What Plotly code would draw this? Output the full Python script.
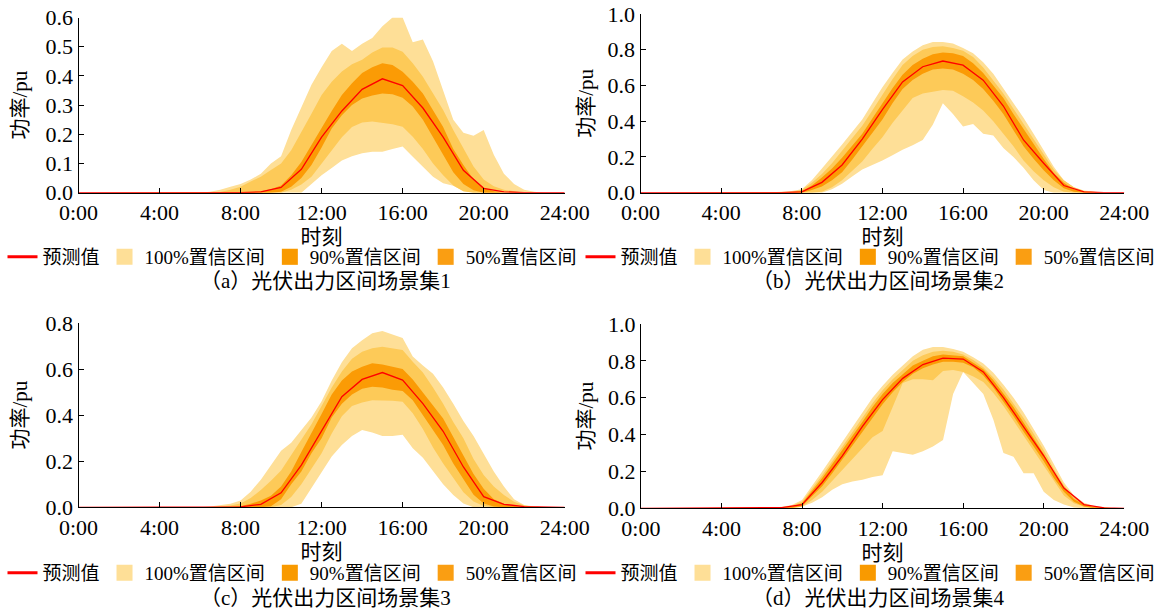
import plotly.graph_objects as go

# ---------------- data ----------------
HOURS = list(range(25))                       # forecast points (hourly)
T_HALF = [i / 2 for i in range(49)]           # band points (half-hourly)
X_TICKVALS = [0, 4, 8, 12, 16, 20, 24]
X_TICKTEXT = ["0:00", "4:00", "8:00", "12:00", "16:00", "20:00", "24:00"]
NIGHT_AM = [0] * 12      # 0:00 - 5:30
NIGHT_PM = [0] * 2       # 23:30 - 24:00

# panel (a)
A_RED = [0, 0, 0, 0, 0, 0, 0, 0, 0, .003, .018, .08, .19, .28, .354, .39, .367, .29, .19, .077, .015, .003, 0, 0, 0]
A_U100 = NIGHT_AM + [0, .003, .01, .02, .03, .045, .065, .10, .125, .215, .295, .37, .43, .485, .51, .485, .51, .53, .57, .60, .60, .515, .525, .45, .35, .25, .205, .195, .215, .13, .065, .03, .01, .003, 0] + NIGHT_PM
A_U90 = NIGHT_AM + [0, 0, .002, .01, .02, .038, .055, .078, .10, .145, .205, .27, .335, .38, .415, .44, .455, .48, .497, .497, .483, .443, .397, .34, .283, .215, .15, .09, .045, .022, .01, .004, 0, 0, 0] + NIGHT_PM
A_U50 = NIGHT_AM + [0, 0, 0, 0, 0, .002, .005, .012, .025, .06, .105, .165, .225, .28, .335, .375, .41, .43, .443, .437, .414, .38, .34, .28, .225, .15, .095, .045, .018, .005, 0, 0, 0, 0, 0] + NIGHT_PM
A_L50 = NIGHT_AM + [0, 0, 0, 0, 0, 0, 0, 0, .003, .02, .05, .095, .155, .22, .265, .30, .323, .333, .34, .337, .325, .295, .25, .19, .13, .07, .03, .008, 0, 0, 0, 0, 0, 0, 0] + NIGHT_PM
A_L90 = NIGHT_AM + [0, 0, 0, 0, 0, 0, 0, 0, 0, .01, .028, .055, .10, .145, .19, .225, .24, .244, .24, .234, .226, .192, .15, .10, .06, .025, .005, 0, 0, 0, 0, 0, 0, 0, 0] + NIGHT_PM
A_L100 = NIGHT_AM + [0, 0, 0, 0, 0, 0, 0, 0, 0, 0, 0, .03, .06, .085, .11, .125, .135, .14, .14, .15, .158, .123, .09, .055, .032, .024, .005, 0, 0, 0, 0, 0, 0, 0, 0] + NIGHT_PM

# panel (b)
B_RED = [0, 0, 0, 0, 0, 0, 0, 0, .005, .058, .155, .30, .465, .62, .705, .737, .714, .63, .485, .295, .165, .04, .005, 0, 0]
B_U100 = NIGHT_AM + [0, .002, .005, .01, .02, .07, .135, .20, .27, .34, .41, .50, .59, .67, .745, .79, .825, .843, .843, .835, .81, .78, .73, .665, .585, .50, .42, .33, .24, .145, .07, .03, .012, .004, 0] + NIGHT_PM
B_U90 = NIGHT_AM + [0, 0, .002, .006, .015, .055, .105, .165, .235, .305, .375, .46, .55, .635, .715, .765, .80, .815, .82, .81, .795, .76, .70, .63, .555, .47, .385, .30, .215, .13, .07, .03, .01, .003, 0] + NIGHT_PM
B_U50 = NIGHT_AM + [0, 0, 0, .003, .008, .04, .085, .135, .195, .26, .33, .415, .50, .585, .66, .715, .75, .775, .785, .78, .765, .725, .67, .60, .53, .44, .355, .27, .19, .11, .055, .02, .007, 0, 0] + NIGHT_PM
B_L50 = NIGHT_AM + [0, 0, 0, 0, 0, .015, .035, .07, .115, .185, .26, .33, .41, .50, .58, .63, .665, .69, .695, .69, .665, .63, .58, .515, .44, .35, .26, .19, .125, .07, .025, .005, 0, 0, 0] + NIGHT_PM
B_L90 = NIGHT_AM + [0, 0, 0, 0, 0, 0, .005, .03, .07, .12, .175, .245, .31, .39, .46, .53, .555, .565, .575, .57, .54, .505, .46, .40, .33, .26, .18, .12, .07, .03, .005, 0, 0, 0, 0] + NIGHT_PM
B_L100 = NIGHT_AM + [0, 0, 0, 0, 0, 0, 0, .02, .05, .09, .13, .155, .18, .21, .24, .265, .295, .38, .50, .44, .37, .385, .33, .32, .25, .20, .14, .07, .015, 0, 0, 0, 0, 0, 0] + NIGHT_PM

# panel (c)
C_RED = [0, 0, 0, 0, 0, 0, 0, 0, .002, .013, .063, .183, .33, .48, .555, .585, .552, .45, .33, .175, .046, .013, .003, 0, 0]
C_U100 = NIGHT_AM + [0, .004, .01, .015, .03, .068, .12, .18, .245, .28, .335, .39, .46, .55, .63, .69, .725, .755, .765, .75, .735, .655, .615, .58, .52, .45, .375, .31, .23, .155, .09, .035, .01, .003, 0] + NIGHT_PM
C_U90 = NIGHT_AM + [0, 0, .004, .008, .017, .04, .075, .115, .16, .225, .29, .36, .44, .52, .59, .645, .675, .69, .697, .69, .683, .632, .585, .52, .45, .37, .30, .21, .14, .09, .053, .024, .008, .002, 0] + NIGHT_PM
C_U50 = NIGHT_AM + [0, 0, 0, 0, .005, .015, .03, .05, .09, .155, .24, .32, .405, .49, .55, .59, .61, .625, .62, .61, .60, .555, .50, .445, .385, .305, .225, .145, .08, .035, .015, .006, .002, 0, 0] + NIGHT_PM
C_L50 = NIGHT_AM + [0, 0, 0, 0, 0, 0, 0, .005, .035, .10, .155, .235, .30, .39, .45, .49, .515, .523, .52, .51, .505, .465, .40, .335, .27, .19, .12, .055, .017, .003, 0, 0, 0, 0, 0] + NIGHT_PM
C_L90 = NIGHT_AM + [0, 0, 0, 0, 0, 0, 0, 0, .01, .045, .10, .17, .235, .32, .395, .44, .455, .465, .465, .462, .458, .408, .34, .26, .19, .13, .065, .025, .006, 0, 0, 0, 0, 0, 0] + NIGHT_PM
C_L100 = NIGHT_AM + [0, 0, 0, 0, 0, 0, 0, 0, 0, 0, .015, .085, .155, .22, .27, .31, .335, .325, .31, .31, .315, .256, .215, .155, .10, .053, .017, 0, 0, 0, 0, 0, 0, 0, 0] + NIGHT_PM

# panel (d)
D_RED = [0, 0, 0, 0, 0, 0, 0, .004, .02, .14, .285, .445, .59, .705, .78, .815, .81, .74, .60, .44, .285, .11, .02, .002, 0]
D_U100 = NIGHT_AM + [0, .003, .008, .018, .045, .12, .20, .28, .36, .44, .52, .60, .665, .725, .775, .825, .86, .875, .875, .865, .85, .82, .785, .735, .67, .60, .52, .43, .34, .24, .14, .07, .03, .012, .004] + NIGHT_PM
D_U90 = NIGHT_AM + [0, .002, .006, .014, .035, .105, .18, .255, .335, .415, .49, .57, .64, .70, .75, .80, .83, .85, .855, .85, .835, .805, .765, .71, .645, .57, .49, .405, .315, .215, .125, .06, .024, .008, .002] + NIGHT_PM
D_U50 = NIGHT_AM + [0, 0, .005, .01, .028, .095, .165, .24, .315, .395, .47, .55, .62, .68, .73, .775, .80, .825, .835, .83, .825, .79, .755, .695, .625, .55, .465, .38, .295, .20, .115, .05, .02, .006, .002] + NIGHT_PM
D_L50 = NIGHT_AM + [0, 0, 0, .003, .012, .065, .12, .19, .265, .345, .42, .495, .565, .63, .685, .73, .76, .78, .795, .795, .79, .765, .72, .655, .58, .50, .415, .335, .255, .165, .09, .035, .01, .002, 0] + NIGHT_PM
D_L90 = NIGHT_AM + [0, 0, 0, .002, .008, .045, .09, .15, .21, .27, .33, .385, .42, .55, .68, .70, .70, .695, .745, .75, .74, .715, .685, .625, .555, .475, .395, .315, .235, .15, .07, .028, .008, 0, 0] + NIGHT_PM
D_L100 = NIGHT_AM + [0, 0, 0, 0, .008, .03, .06, .10, .13, .145, .155, .17, .18, .31, .30, .29, .31, .335, .37, .62, .74, .68, .62, .48, .30, .28, .19, .19, .09, .045, .02, .005, 0, 0, 0] + NIGHT_PM

LEGEND_NAMES = ["预测值", "100%置信区间", "90%置信区间", "50%置信区间"]
CAPTIONS = ["（a）光伏出力区间场景集1", "（b）光伏出力区间场景集2",
            "（c）光伏出力区间场景集3", "（d）光伏出力区间场景集4"]
Y_MAX = [0.6, 1.0, 0.8, 1.0]
Y_DTICK = [0.1, 0.2, 0.2, 0.2]

# ---------------- style ----------------
FONT = "Liberation Serif, 'Noto Sans CJK SC', serif"
COL_LIGHT = "#FEDF97"
COL_MED = "#FDCA58"
COL_DARK = "#FB9B05"
COL_LEG90 = "#F99A00"
COL_LEG50 = "#FA9E12"
COL_RED = "#FF0000"
W, H = 1161, 612
TICK_SIZE = 22

panels = [
    dict(red=A_RED, b=[(A_L100, A_U100, COL_LIGHT), (A_L90, A_U90, COL_MED), (A_L50, A_U50, COL_DARK)],
         xd=[78.5, 564.7], yd=[17.5, 192.7], cap=(325, 281), leg=(292, 257), ysto=12),
    dict(red=B_RED, b=[(B_L100, B_U100, COL_LIGHT), (B_L90, B_U90, COL_MED), (B_L50, B_U50, COL_DARK)],
         xd=[640.5, 1124.3], yd=[14.0, 192.7], cap=(878, 281), leg=(870, 257), ysto=8),
    dict(red=C_RED, b=[(C_L100, C_U100, COL_LIGHT), (C_L90, C_U90, COL_MED), (C_L50, C_U50, COL_DARK)],
         xd=[78.5, 564.7], yd=[323.0, 507.3], cap=(325, 598), leg=(292, 573), ysto=12),
    dict(red=D_RED, b=[(D_L100, D_U100, COL_LIGHT), (D_L90, D_U90, COL_MED), (D_L50, D_U50, COL_DARK)],
         xd=[640.9, 1124.3], yd=[324.0, 508.3], cap=(878, 598), leg=(870, 573), ysto=8),
]

fig = go.Figure()
layout = dict(width=W, height=H, margin=dict(l=0, r=0, t=0, b=0, autoexpand=False),
              paper_bgcolor="white", plot_bgcolor="white",
              font=dict(family=FONT, size=21, color="black"),
              showlegend=True, annotations=[])

for i, p in enumerate(panels):
    n = "" if i == 0 else str(i + 1)
    xa, ya = "x" + n, "y" + n
    lg = "legend" + n
    for lo, hi, col in p["b"]:
        fig.add_trace(go.Scatter(x=T_HALF, y=lo, mode="lines", line=dict(width=0, color=col),
                                 xaxis=xa, yaxis=ya, showlegend=False, hoverinfo="skip"))
        fig.add_trace(go.Scatter(x=T_HALF, y=hi, mode="lines", line=dict(width=0, color=col),
                                 fill="tonexty", fillcolor=col, xaxis=xa, yaxis=ya,
                                 showlegend=False, hoverinfo="skip"))
    fig.add_trace(go.Scatter(x=HOURS, y=p["red"], mode="lines", line=dict(color=COL_RED, width=1.3),
                             xaxis=xa, yaxis=ya, showlegend=False))
    # legend entries
    fig.add_trace(go.Scatter(x=[None], y=[None], mode="lines", name=LEGEND_NAMES[0],
                             line=dict(color=COL_RED, width=3), xaxis=xa, yaxis=ya, legend=lg))
    for name, col in zip(LEGEND_NAMES[1:], [COL_LIGHT, COL_LEG90, COL_LEG50]):
        fig.add_trace(go.Scatter(x=[None], y=[None], mode="markers", name=name,
                                 marker=dict(symbol="square", size=16, color=col, line=dict(width=0)),
                                 xaxis=xa, yaxis=ya, legend=lg))

    layout["xaxis" + n] = dict(
        domain=[p["xd"][0] / W, p["xd"][1] / W], anchor=ya, range=[0, 24], automargin=False,
        tickvals=X_TICKVALS, ticktext=X_TICKTEXT, ticks="inside", ticklen=5, tickcolor="black",
        showline=True, linecolor="black", linewidth=1, showgrid=False, zeroline=False,
        tickfont=dict(size=TICK_SIZE, family=FONT),
        title=dict(text="时刻", font=dict(size=21, family=FONT), standoff=3))
    layout["yaxis" + n] = dict(
        domain=[1 - p["yd"][1] / H, 1 - p["yd"][0] / H], anchor=xa, range=[0, Y_MAX[i]],
        automargin=False,
        dtick=Y_DTICK[i], tick0=0, tickformat=".1f", ticks="inside", ticklen=5, tickcolor="black",
        showline=True, linecolor="black", linewidth=1, showgrid=False, zeroline=False,
        tickfont=dict(size=TICK_SIZE, family=FONT),
        title=dict(text="功率/pu", font=dict(size=21, family=FONT), standoff=p["ysto"]))
    layout[lg] = dict(orientation="h", x=p["leg"][0] / W, xanchor="center",
                      y=1 - p["leg"][1] / H, yanchor="middle", traceorder="normal",
                      font=dict(size=19, family=FONT), itemwidth=30,
                      bgcolor="rgba(0,0,0,0)", borderwidth=0, tracegroupgap=0)
    layout["annotations"].append(dict(text=CAPTIONS[i], x=p["cap"][0] / W, y=1 - p["cap"][1] / H,
                                      xref="paper", yref="paper", showarrow=False,
                                      xanchor="center", yanchor="middle",
                                      font=dict(size=21, family=FONT)))

fig.update_layout(**layout)
fig.write_html("out.html")
